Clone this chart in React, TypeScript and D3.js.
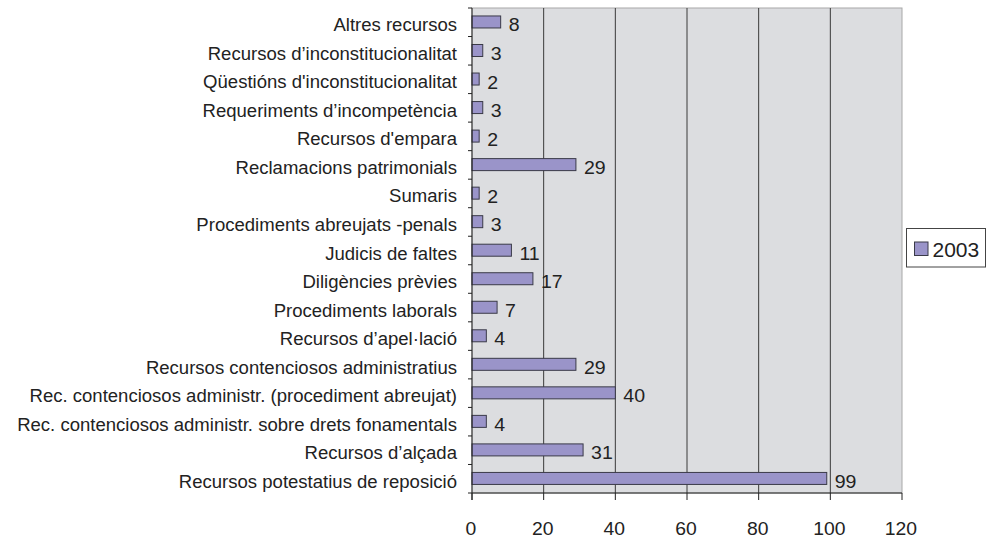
import React, { useEffect, useRef } from "react";
import * as d3 from "d3";

const categories: string[] = [
  "Altres recursos",
  "Recursos d’inconstitucionalitat",
  "Qüestións d'inconstitucionalitat",
  "Requeriments d’incompetència",
  "Recursos d'empara",
  "Reclamacions patrimonials",
  "Sumaris",
  "Procediments abreujats -penals",
  "Judicis de faltes",
  "Diligències prèvies",
  "Procediments laborals",
  "Recursos d’apel·lació",
  "Recursos contenciosos administratius",
  "Rec. contenciosos administr. (procediment abreujat)",
  "Rec. contenciosos administr. sobre drets fonamentals",
  "Recursos d’alçada",
  "Recursos potestatius de reposició",
];
const values2003: number[] = [8, 3, 2, 3, 2, 29, 2, 3, 11, 17, 7, 4, 29, 40, 4, 31, 99];
const xTicks: number[] = [0, 20, 40, 60, 80, 100, 120];
const seriesName = "2003";

const W = 991;
const H = 538;
const M = { left: 472, right: 902, top: 8, bottom: 493 };
const FONT = "Liberation Sans, Arial, sans-serif";

export default function App() {
  const ref = useRef<SVGSVGElement>(null);
  useEffect(() => {
    const svg = d3.select(ref.current);
    svg.selectAll("*").remove();
    const x = d3.scaleLinear().domain([0, 120]).range([M.left, M.right]);
    const y = d3.scaleBand<string>().domain(categories).range([M.top, M.bottom]);
    const bw = y.bandwidth();
    const barH = 12;

    svg.append("rect").attr("x", 0).attr("y", 0).attr("width", W).attr("height", H).attr("fill", "#ffffff");
    svg.append("rect")
      .attr("x", M.left).attr("y", M.top)
      .attr("width", M.right - M.left).attr("height", M.bottom - M.top)
      .attr("fill", "#dcdde0").attr("stroke", "#a8a8a8").attr("stroke-width", 1);

    // grid lines
    svg.append("g").selectAll("line").data(xTicks.filter(t => t > 0 && t < 120)).join("line")
      .attr("x1", d => x(d)).attr("x2", d => x(d))
      .attr("y1", M.top).attr("y2", M.bottom)
      .attr("stroke", "#3a3a3a").attr("stroke-width", 1);

    // bars
    svg.append("g").selectAll("rect").data(categories).join("rect")
      .attr("x", x(0))
      .attr("y", d => (y(d) as number) + bw / 2 - barH / 2 - 0.3)
      .attr("width", (d, i) => x(values2003[i]) - x(0))
      .attr("height", barH)
      .attr("fill", "#9a94c9").attr("stroke", "#3a3a48").attr("stroke-width", 1);

    // value labels
    svg.append("g").selectAll("text").data(categories).join("text")
      .attr("transform", (d, i) => `translate(${x(values2003[i]) + 8},${(y(d) as number) + bw / 2 + 9.2}) scale(1.04,1)`)
      .attr("font-family", FONT).attr("font-size", 18.8).attr("fill", "#222")
      .text((d, i) => String(values2003[i]));

    // y axis
    svg.append("line").attr("x1", M.left).attr("x2", M.left).attr("y1", M.top).attr("y2", M.bottom + 7)
      .attr("stroke", "#222").attr("stroke-width", 1);
    const bounds = d3.range(categories.length + 1).map(i => M.top + i * bw);
    svg.append("g").selectAll("line").data(bounds).join("line")
      .attr("x1", M.left - 4).attr("x2", M.left).attr("y1", d => d).attr("y2", d => d)
      .attr("stroke", "#222").attr("stroke-width", 1);
    svg.append("g").selectAll("text").data(categories).join("text")
      .attr("transform", d => `translate(${M.left - 15},${(y(d) as number) + bw / 2 + 9}) scale(1.06,1)`)
      .attr("text-anchor", "end")
      .attr("font-family", FONT).attr("font-size", 17.5).attr("fill", "#222")
      .text(d => d);

    // x axis
    svg.append("line").attr("x1", M.left).attr("x2", M.right).attr("y1", M.bottom).attr("y2", M.bottom)
      .attr("stroke", "#222").attr("stroke-width", 1);
    svg.append("g").selectAll("line").data(xTicks).join("line")
      .attr("x1", d => x(d)).attr("x2", d => x(d)).attr("y1", M.bottom).attr("y2", M.bottom + 7)
      .attr("stroke", "#222").attr("stroke-width", 1);
    svg.append("g").selectAll("text").data(xTicks).join("text")
      .attr("transform", d => `translate(${x(d) - 1},535) scale(1.04,1)`)
      .attr("text-anchor", "middle")
      .attr("font-family", FONT).attr("font-size", 18.6).attr("fill", "#222")
      .text(d => String(d));

    // legend
    const lg = svg.append("g");
    lg.append("rect").attr("x", 906.5).attr("y", 228.5).attr("width", 79).attr("height", 38.5)
      .attr("fill", "#ffffff").attr("stroke", "#444").attr("stroke-width", 1);
    lg.append("rect").attr("x", 914.5).attr("y", 242).attr("width", 13.5).attr("height", 13.5)
      .attr("fill", "#9a94c9").attr("stroke", "#3a3a48").attr("stroke-width", 1);
    lg.append("text").attr("x", 932.5).attr("y", 256.5)
      .attr("font-family", FONT).attr("font-size", 21).attr("fill", "#222")
      .text(seriesName);
  }, []);
  return (
    <svg ref={ref} width={W} height={H}
      style={{ position: "absolute", left: 0, top: 0, display: "block" }} />
  );
}
